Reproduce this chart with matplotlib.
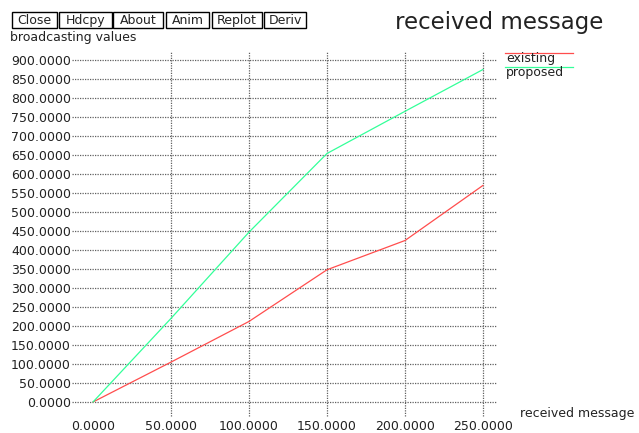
import matplotlib
matplotlib.use('Agg')
import matplotlib.pyplot as plt
from matplotlib.lines import Line2D
from matplotlib.patches import Rectangle

# data
msgs = [0, 50, 100, 150, 200, 250]
existing = [0, 105, 212, 348, 425, 570]
proposed = [0, 220, 447, 654, 765, 875]

x_ticks = [0, 50, 100, 150, 200, 250]
y_ticks = list(range(0, 901, 50))
buttons = ['Close', 'Hdcpy', 'About', 'Anim', 'Replot', 'Deriv']

W, H = 639, 433
plt.rcParams['font.family'] = 'DejaVu Sans'
plt.rcParams['text.color'] = '#222222'
plt.rcParams['xtick.color'] = '#222222'
plt.rcParams['ytick.color'] = '#222222'

def fx(px):  # pixel -> figure coords
    return px / W

def fy(py):
    return 1 - py / H

fig = plt.figure(figsize=(W / 100, H / 100), dpi=100)
ax = fig.add_axes([fx(93), fy(402), (483 - 93) / W, (402 - 60) / H])
ax.set_xlim(0, 250)
ax.set_ylim(0, 900)
for s in ax.spines.values():
    s.set_visible(False)

grid_kw = dict(color='#606060', lw=0.9, linestyle=(0, (1, 1)), clip_on=False, zorder=1)
for yv in y_ticks:
    ax.plot([-13.5, 259], [yv, yv], **grid_kw)
for xv in x_ticks[1:]:
    ax.plot([xv, xv], [-37, 921], **grid_kw)

ax.set_xticks(x_ticks, ['%.4f' % v for v in x_ticks])
ax.set_yticks(y_ticks, ['%.4f' % v for v in y_ticks])
ax.tick_params(axis='x', length=0, pad=13, labelsize=9)
ax.tick_params(axis='y', length=0, pad=16, labelsize=9)

c_ex, c_pr = '#ff4d4d', '#33ff99'
ax.plot(msgs, existing, color=c_ex, lw=0.9, zorder=3, clip_on=False)
ax.plot(msgs, proposed, color=c_pr, lw=0.9, zorder=3, clip_on=False)

# legend, xgraph style
fig.add_artist(Line2D([fx(505), fx(573)], [fy(52.5), fy(52.5)], color=c_ex, lw=0.9))
fig.add_artist(Line2D([fx(505), fx(573)], [fy(66.5), fy(66.5)], color=c_pr, lw=0.9))
fig.text(fx(506), fy(62), 'existing', fontsize=9, va='baseline', ha='left')
fig.text(fx(506), fy(76), 'proposed', fontsize=9, va='baseline', ha='left')

# labels and title
fig.text(fx(395), fy(29), 'received message', fontsize=16.5, va='baseline', ha='left')
fig.text(fx(10), fy(41), 'broadcasting values', fontsize=9, va='baseline', ha='left')
fig.text(fx(520), fy(417), 'received message', fontsize=9, va='baseline', ha='left')

# button row
bx = [(12, 57), (59, 112), (113, 163), (166, 209), (212, 262), (264, 306)]
for name, (l, r) in zip(buttons, bx):
    fig.add_artist(Rectangle((fx(l), fy(28)), (r - l) / W, 16 / H, transform=fig.transFigure,
                             fill=False, edgecolor='black', lw=1))
    fig.text(fx((l + r) / 2), fy(24), name, fontsize=9, va='baseline', ha='center')

fig.savefig('out.png', dpi=100)
